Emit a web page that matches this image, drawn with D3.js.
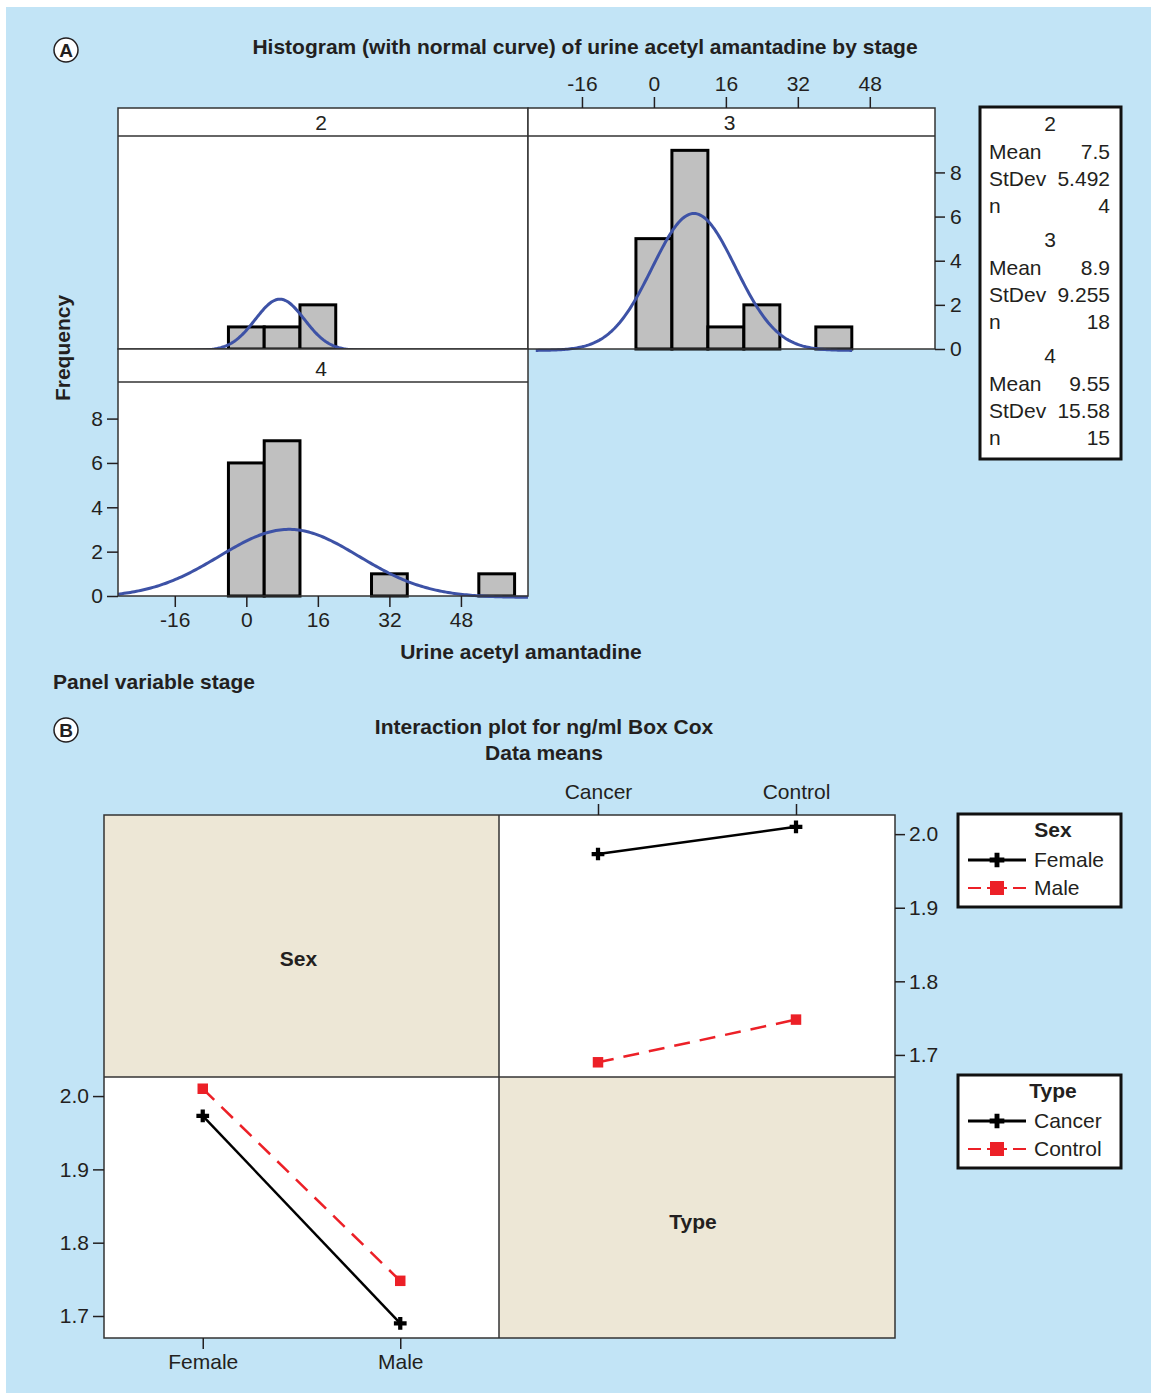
<!DOCTYPE html>
<html>
<head>
<meta charset="utf-8">
<script src="https://cdn.jsdelivr.net/npm/d3@7"></script>
<style>
  body { margin: 0; background: #fff; }
  svg text { font-family: "Liberation Sans", Arial, sans-serif; fill: #231f20; }
</style>
</head>
<body>
<svg id="chart" width="1157" height="1399"></svg>
<script>
// Panel A: histograms by stage
const stages = ['2', '3', '4'];
const binCenters = [0, 8, 16, 24, 32, 40, 48, 56];
const counts2 = [1, 1, 2, 0, 0, 0, 0, 0];
const counts3 = [5, 9, 1, 2, 0, 1, 0, 0];
const counts4 = [6, 7, 0, 0, 1, 0, 0, 1];
const stageMeans = [7.5, 8.9, 9.55];
const stageStdevs = [5.492, 9.255, 15.58];
const stageN = [4, 18, 15];
const urineTicks = [-16, 0, 16, 32, 48];
const freqTicks = [0, 2, 4, 6, 8];
const binWidth = 8;

// Panel B: interaction plot means (index by Type: Cancer, Control)
const sexLevels = ['Female', 'Male'];
const typeLevels = ['Cancer', 'Control'];
const femaleMeans = [1.973, 2.010];
const maleMeans = [1.690, 1.748];
const boxCoxTicks = [1.7, 1.8, 1.9, 2.0];

const svg = d3.select('#chart');
const ink = '#231f20';
const blueCurve = '#3d52a6';
const redLine = '#ec2027';
const fs = '21px';

svg.append('rect').attr('x', 6).attr('y', 7).attr('width', 1145).attr('height', 1386)
    .attr('fill', '#c2e4f6');

function circleLabel(x, y, t) {
    svg.append('circle').attr('cx', x).attr('cy', y).attr('r', 12)
        .attr('fill', '#fff').attr('stroke', ink).attr('stroke-width', 1.5);
    svg.append('text').attr('x', x).attr('y', y + 7).attr('text-anchor', 'middle')
        .attr('font-size', '19px').attr('font-weight', 'bold').text(t);
}
circleLabel(66, 50, 'A');
circleLabel(66, 730, 'B');

// ---------- Panel A ----------
svg.append('text').attr('x', 585).attr('y', 54).attr('text-anchor', 'middle')
    .attr('font-size', fs).attr('font-weight', 'bold')
    .text('Histogram (with normal curve) of urine acetyl amantadine by stage');

const yDomain = [0, 9.65];

const panels = [
    { label: stages[0], counts: counts2, mean: stageMeans[0], sd: stageStdevs[0], n: stageN[0],
      xd: [-28.7, 63.0], x0: 118, x1: 528, stripTop: 108, top: 136, bottom: 349 },
    { label: stages[1], counts: counts3, mean: stageMeans[1], sd: stageStdevs[1], n: stageN[1],
      xd: [-28.0, 62.5], x0: 528, x1: 935, stripTop: 108, top: 136, bottom: 349 },
    { label: stages[2], counts: counts4, mean: stageMeans[2], sd: stageStdevs[2], n: stageN[2],
      xd: [-28.7, 63.0], x0: 118, x1: 528, stripTop: 349, top: 382, bottom: 596 }
];

panels.forEach(p => {
    p.x = d3.scaleLinear().domain(p.xd).range([p.x0, p.x1]);
    p.y = d3.scaleLinear().domain(yDomain).range([p.bottom, p.top]);
    const g = svg.append('g');

    g.append('rect').attr('x', p.x0).attr('y', p.stripTop)
        .attr('width', p.x1 - p.x0).attr('height', p.bottom - p.stripTop)
        .attr('fill', '#fff');

    // bars
    g.selectAll('.bar')
        .data(binCenters.map((c, i) => ({ c, v: p.counts[i] })).filter(d => d.v > 0))
        .enter().append('rect')
        .attr('x', d => p.x(d.c - binWidth / 2))
        .attr('y', d => p.y(d.v))
        .attr('width', d => p.x(d.c + binWidth / 2) - p.x(d.c - binWidth / 2))
        .attr('height', d => p.y(0) - p.y(d.v))
        .attr('fill', '#c0c0c0').attr('stroke', '#000').attr('stroke-width', 3);

    // normal curve scaled to counts
    const lo = Math.max(p.mean - 3.8 * p.sd, p.xd[0]);
    const hi = Math.min(p.mean + 3.8 * p.sd, p.xd[1]);
    const pts = d3.range(0, 201).map(i => {
        const xv = lo + (hi - lo) * i / 200;
        const z = (xv - p.mean) / p.sd;
        const yv = p.n * binWidth * Math.exp(-0.5 * z * z) / (p.sd * Math.sqrt(2 * Math.PI));
        return [xv, yv];
    });
    g.append('path').datum(pts)
        .attr('d', d3.line().x(d => p.x(d[0])).y(d => p.y(d[1]) + 1.5))
        .attr('fill', 'none').attr('stroke', blueCurve).attr('stroke-width', 3);

    // frames and strip
    g.append('rect').attr('x', p.x0).attr('y', p.stripTop)
        .attr('width', p.x1 - p.x0).attr('height', p.bottom - p.stripTop)
        .attr('fill', 'none').attr('stroke', '#333').attr('stroke-width', 1.5);
    g.append('line').attr('x1', p.x0).attr('x2', p.x1).attr('y1', p.top).attr('y2', p.top)
        .attr('stroke', '#333').attr('stroke-width', 1.5);
    g.append('text').attr('x', (p.x0 + p.x1) / 2 - 2).attr('y', p.top - 6)
        .attr('text-anchor', 'middle').attr('font-size', fs).text(p.label);
});

function styleAxis(sel) {
    sel.select('.domain').remove();
    sel.selectAll('.tick line').attr('stroke', ink).attr('stroke-width', 1.5);
    sel.selectAll('.tick text').attr('font-size', fs).attr('fill', ink)
        .style('font-family', '"Liberation Sans", Arial, sans-serif');
}
const plain = d => String(d);

// top x axis on stage 3
svg.append('g').attr('transform', `translate(0,${panels[1].stripTop})`)
    .call(d3.axisTop(panels[1].x).tickValues(urineTicks).tickFormat(plain).tickSize(11).tickPadding(6))
    .call(styleAxis);
// right y axis on stage 3
svg.append('g').attr('transform', `translate(${panels[1].x1},0)`)
    .call(d3.axisRight(panels[1].y).tickValues(freqTicks).tickFormat(plain).tickSize(10).tickPadding(5))
    .call(styleAxis);
// bottom x axis on stage 4
svg.append('g').attr('transform', `translate(0,${panels[2].bottom})`)
    .call(d3.axisBottom(panels[2].x).tickValues(urineTicks).tickFormat(plain).tickSize(11).tickPadding(5))
    .call(styleAxis);
// left y axis on stage 4
svg.append('g').attr('transform', `translate(${panels[2].x0},0)`)
    .call(d3.axisLeft(panels[2].y).tickValues(freqTicks).tickFormat(plain).tickSize(11).tickPadding(4))
    .call(styleAxis);

svg.append('text').attr('transform', 'translate(70,348) rotate(-90)')
    .attr('text-anchor', 'middle').attr('font-size', fs).attr('font-weight', 'bold')
    .text('Frequency');
svg.append('text').attr('x', 521).attr('y', 659).attr('text-anchor', 'middle')
    .attr('font-size', fs).attr('font-weight', 'bold').text('Urine acetyl amantadine');
svg.append('text').attr('x', 53).attr('y', 689)
    .attr('font-size', fs).attr('font-weight', 'bold').text('Panel variable stage');

// stats legend
const statBox = svg.append('g');
statBox.append('rect').attr('x', 980).attr('y', 107).attr('width', 141).attr('height', 352)
    .attr('fill', '#fff').attr('stroke', '#111').attr('stroke-width', 3);
stages.forEach((s, i) => {
    const y0 = 131 + i * 116;
    const rows = [['Mean', stageMeans[i]], ['StDev', stageStdevs[i]], ['n', stageN[i]]];
    statBox.append('text').attr('x', 1050).attr('y', y0).attr('text-anchor', 'middle')
        .attr('font-size', fs).text(s);
    rows.forEach((r, j) => {
        const yy = y0 + 28 + j * 27;
        statBox.append('text').attr('x', 989).attr('y', yy).attr('font-size', fs).text(r[0]);
        statBox.append('text').attr('x', 1110).attr('y', yy).attr('text-anchor', 'end')
            .attr('font-size', fs).text(r[1]);
    });
});

// ---------- Panel B ----------
svg.append('text').attr('x', 544).attr('y', 734).attr('text-anchor', 'middle')
    .attr('font-size', fs).attr('font-weight', 'bold').text('Interaction plot for ng/ml Box Cox');
svg.append('text').attr('x', 544).attr('y', 760).attr('text-anchor', 'middle')
    .attr('font-size', fs).attr('font-weight', 'bold').text('Data means');

const bx0 = 104, bxm = 499, bx1 = 895, by0 = 815, bym = 1077, by1 = 1338;
const beige = '#ede7d6';

svg.append('rect').attr('x', bx0).attr('y', by0).attr('width', bx1 - bx0).attr('height', by1 - by0)
    .attr('fill', '#fff');
svg.append('rect').attr('x', bx0).attr('y', by0).attr('width', bxm - bx0).attr('height', bym - by0)
    .attr('fill', beige);
svg.append('rect').attr('x', bxm).attr('y', bym).attr('width', bx1 - bxm).attr('height', by1 - bym)
    .attr('fill', beige);

const bcDomain = [1.670, 2.026];
const xType = d3.scalePoint().domain(typeLevels).range([bxm, bx1]).padding(0.5);
const yTop = d3.scaleLinear().domain(bcDomain).range([bym, by0]);
const xSex = d3.scalePoint().domain(sexLevels).range([bx0, bxm]).padding(0.5);
const yBot = d3.scaleLinear().domain(bcDomain).range([by1, bym]);

const crossSym = d3.symbol().type(d3.symbolCross).size(90);
const squareSym = d3.symbol().type(d3.symbolSquare).size(110);

function drawSeries(xs, ys, cats, vals, color, dashed, sym) {
    const pts = cats.map((c, i) => [xs(c), ys(vals[i])]);
    svg.append('path').datum(pts).attr('d', d3.line())
        .attr('fill', 'none').attr('stroke', color).attr('stroke-width', 2.5)
        .attr('stroke-dasharray', dashed ? '16,10' : null);
    svg.selectAll(null).data(pts).enter().append('path')
        .attr('transform', d => `translate(${d[0]},${d[1]})`)
        .attr('d', sym).attr('fill', color);
}

// top right: Sex lines across Type
drawSeries(xType, yTop, typeLevels, femaleMeans, '#000', false, crossSym);
drawSeries(xType, yTop, typeLevels, maleMeans, redLine, true, squareSym);
// bottom left: Type lines across Sex
const cancerMeans = [femaleMeans[0], maleMeans[0]];
const controlMeans = [femaleMeans[1], maleMeans[1]];
drawSeries(xSex, yBot, sexLevels, cancerMeans, '#000', false, crossSym);
drawSeries(xSex, yBot, sexLevels, controlMeans, redLine, true, squareSym);

// frame
svg.append('rect').attr('x', bx0).attr('y', by0).attr('width', bx1 - bx0).attr('height', by1 - by0)
    .attr('fill', 'none').attr('stroke', '#333').attr('stroke-width', 1.5);
svg.append('line').attr('x1', bxm).attr('x2', bxm).attr('y1', by0).attr('y2', by1)
    .attr('stroke', '#333').attr('stroke-width', 1.5);
svg.append('line').attr('x1', bx0).attr('x2', bx1).attr('y1', bym).attr('y2', bym)
    .attr('stroke', '#333').attr('stroke-width', 1.5);

svg.append('text').attr('x', (bx0 + bxm) / 2 - 3).attr('y', 966).attr('text-anchor', 'middle')
    .attr('font-size', fs).attr('font-weight', 'bold').text('Sex');
svg.append('text').attr('x', (bxm + bx1) / 2 - 4).attr('y', 1229).attr('text-anchor', 'middle')
    .attr('font-size', fs).attr('font-weight', 'bold').text('Type');

svg.append('g').attr('transform', `translate(0,${by0})`)
    .call(d3.axisTop(xType).tickSize(11).tickPadding(5)).call(styleAxis);
svg.append('g').attr('transform', `translate(${bx1},0)`)
    .call(d3.axisRight(yTop).tickValues(boxCoxTicks).tickFormat(d3.format('.1f')).tickSize(10).tickPadding(4))
    .call(styleAxis);
svg.append('g').attr('transform', `translate(0,${by1})`)
    .call(d3.axisBottom(xSex).tickSize(11).tickPadding(5)).call(styleAxis);
svg.append('g').attr('transform', `translate(${bx0},0)`)
    .call(d3.axisLeft(yBot).tickValues(boxCoxTicks).tickFormat(d3.format('.1f')).tickSize(11).tickPadding(4))
    .call(styleAxis);

// legends
function legend(y, title, items) {
    const g = svg.append('g');
    g.append('rect').attr('x', 958).attr('y', y).attr('width', 163).attr('height', 93)
        .attr('fill', '#fff').attr('stroke', '#111').attr('stroke-width', 3);
    g.append('text').attr('x', 1053).attr('y', y + 23).attr('text-anchor', 'middle')
        .attr('font-size', fs).attr('font-weight', 'bold').text(title);
    items.forEach((it, i) => {
        const yy = y + 46 + i * 28;
        g.append('line').attr('x1', 968).attr('x2', 1026).attr('y1', yy).attr('y2', yy)
            .attr('stroke', i === 0 ? '#000' : redLine).attr('stroke-width', i === 0 ? 3 : 2)
            .attr('stroke-dasharray', i === 0 ? null : '13,6,20,6,13');
        g.append('path').attr('transform', `translate(997,${yy})`)
            .attr('d', i === 0 ? d3.symbol().type(d3.symbolCross).size(120) : d3.symbol().type(d3.symbolSquare).size(196))
            .attr('fill', i === 0 ? '#000' : redLine);
        g.append('text').attr('x', 1034).attr('y', yy + 7).attr('font-size', fs).text(it);
    });
}
legend(814, 'Sex', sexLevels);
legend(1075, 'Type', typeLevels);
</script>
</body>
</html>
